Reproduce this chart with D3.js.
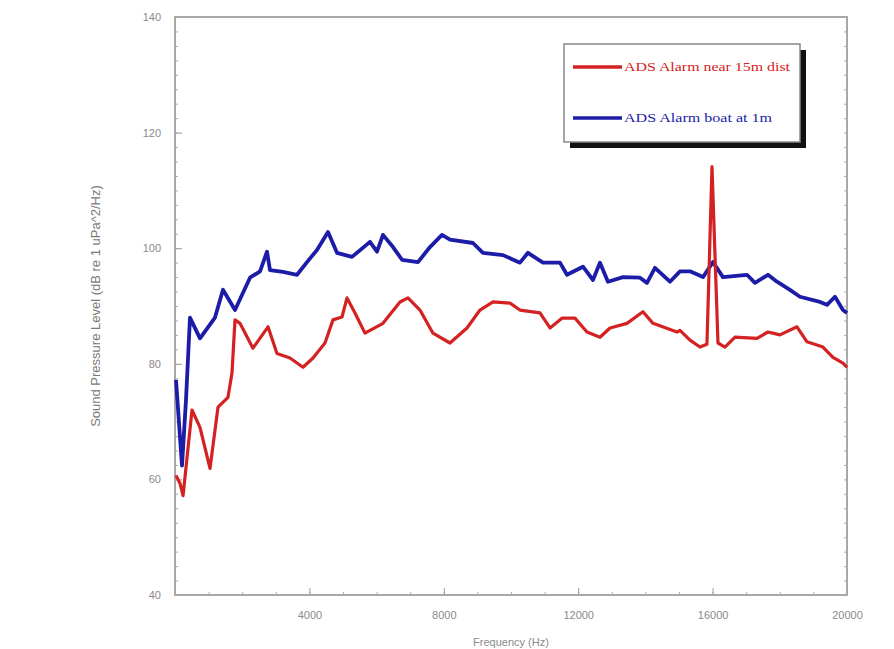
<!DOCTYPE html>
<html>
<head>
<meta charset="utf-8">
<script src="https://cdn.jsdelivr.net/npm/d3@7"></script>
<style>
  body { margin: 0; background: #fff; }
  text { font-family: "Liberation Sans", Arial, sans-serif; }
</style>
</head>
<body>
<div id="chart"></div>
<script>
// data: frequency (Hz) and level (dB)
var seriesNames = ["ADS Alarm near 15m dist", "ADS Alarm boat at 1m"];
var xTicks = [4000, 8000, 12000, 16000, 20000];
var yTicks = [40, 60, 80, 100, 120, 140];

var redFreq = [30, 150, 240, 506, 744, 1042, 1280, 1577, 1696, 1786, 1934, 2321, 2768, 3035, 3422, 3809, 4107, 4464, 4702, 4970, 5119, 5357, 5654, 6190, 6696, 6934, 7291, 7678, 8184, 8690, 9077, 9464, 9970, 10267, 10862, 11160, 11517, 11904, 12261, 12648, 12946, 13451, 13928, 14225, 14940, 15029, 15327, 15624, 15832, 15982, 16160, 16368, 16666, 17320, 17648, 18005, 18511, 18809, 19284, 19582, 19880, 20000];
var redLevel = [60.7, 59.3, 57.2, 72, 69, 61.9, 72.5, 74.2, 78.4, 87.6, 87, 82.7, 86.4, 81.8, 81, 79.4, 81, 83.6, 87.6, 88.1, 91.4, 88.8, 85.3, 87, 90.7, 91.4, 89.3, 85.3, 83.6, 86.2, 89.3, 90.7, 90.5, 89.3, 88.8, 86.2, 87.9, 87.9, 85.5, 84.6, 86.2, 87, 89, 87, 85.5, 85.8, 84.1, 82.9, 83.4, 114.1, 83.6, 82.9, 84.6, 84.4, 85.5, 85, 86.4, 83.8, 82.9, 81.1, 80.1, 79.4];

var blueFreq = [30, 208, 327, 446, 744, 1190, 1428, 1786, 2232, 2530, 2738, 2827, 3214, 3631, 3929, 4226, 4554, 4821, 5268, 5803, 6012, 6190, 6488, 6756, 7232, 7589, 7946, 8184, 8868, 9166, 9761, 10267, 10505, 10952, 11458, 11666, 12142, 12440, 12648, 12886, 13332, 13838, 14047, 14285, 14731, 15029, 15327, 15714, 16011, 16309, 17023, 17261, 17648, 17916, 18302, 18600, 19195, 19404, 19642, 19880, 20000];
var blueLevel = [77.2, 62.4, 73.7, 88, 84.4, 88, 92.8, 89.3, 94.9, 96, 99.4, 96.2, 95.9, 95.4, 97.6, 99.7, 102.8, 99.2, 98.5, 101.1, 99.4, 102.3, 100.2, 98, 97.6, 100.2, 102.3, 101.5, 100.9, 99.2, 98.8, 97.5, 99.2, 97.5, 97.5, 95.4, 96.8, 94.5, 97.5, 94.2, 95, 94.9, 94, 96.6, 94.2, 96, 96, 95, 97.6, 95, 95.4, 94, 95.4, 94.2, 92.8, 91.6, 90.7, 90.2, 91.6, 89.3, 88.8];

var colors = ["#d42222", "#1c1ca8"];

var margin = {top: 17, right: 47, bottom: 54, left: 175},
    width = 894 - margin.left - margin.right,
    height = 649 - margin.top - margin.bottom;

var svg = d3.select("#chart")
  .append("svg")
    .attr("width", 894)
    .attr("height", 649);

var g = svg.append("g")
    .attr("transform", "translate(" + margin.left + "," + margin.top + ")");

var x = d3.scaleLinear().domain([0, 20000]).range([0, width]);
var y = d3.scaleLinear().domain([40, 140]).range([height, 0]);

// minor + major ticks pointing inwards, on all four sides
var minorY = d3.range(40, 140.1, 2.5);
var minorX = d3.range(0, 20001, 1000);

g.append("g")
  .call(d3.axisLeft(y).tickValues(minorY).tickSize(-3).tickFormat(""))
  .call(a => a.select(".domain").remove())
  .selectAll("line").attr("stroke", "#aaa");
g.append("g")
  .attr("transform", "translate(" + width + ",0)")
  .call(d3.axisRight(y).tickValues(minorY).tickSize(-3).tickFormat(""))
  .call(a => a.select(".domain").remove())
  .selectAll("line").attr("stroke", "#aaa");
g.append("g")
  .attr("transform", "translate(0," + height + ")")
  .call(d3.axisBottom(x).tickValues(minorX).tickSize(-3).tickFormat(""))
  .call(a => a.select(".domain").remove())
  .selectAll("line").attr("stroke", "#aaa");

g.append("g")
  .call(d3.axisLeft(y).tickValues(yTicks).tickSize(-7).tickPadding(14).tickFormat(d3.format("d")))
  .call(a => a.select(".domain").remove())
  .call(a => a.selectAll("line").attr("stroke", "#999"))
  .call(a => a.selectAll("text").attr("fill", "#8a8a8a").style("font-size", "11px"));

g.append("g")
  .attr("transform", "translate(0," + height + ")")
  .call(d3.axisBottom(x).tickValues(xTicks).tickSize(-7).tickPadding(16).tickFormat(d3.format("d")))
  .call(a => a.select(".domain").remove())
  .call(a => a.selectAll("line").attr("stroke", "#999"))
  .call(a => a.selectAll("text").attr("fill", "#8a8a8a").style("font-size", "11px"));

g.append("rect")
  .attr("width", width)
  .attr("height", height)
  .attr("fill", "none")
  .attr("stroke", "#a8a8a8")
  .attr("stroke-width", 2);

var line = d3.line()
  .x(function (d) { return x(d[0]); })
  .y(function (d) { return y(d[1]); });

var redData = d3.zip(redFreq, redLevel);
var blueData = d3.zip(blueFreq, blueLevel);

g.append("path")
  .datum(blueData)
  .attr("d", line)
  .attr("fill", "none")
  .attr("stroke", colors[1])
  .attr("stroke-width", 3.8)
  .attr("stroke-linejoin", "round");

g.append("path")
  .datum(redData)
  .attr("d", line)
  .attr("fill", "none")
  .attr("stroke", colors[0])
  .attr("stroke-width", 3.2)
  .attr("stroke-linejoin", "round");

// axis titles
svg.append("text")
  .attr("transform", "translate(100," + (margin.top + y(90)) + ") rotate(-90)")
  .attr("text-anchor", "middle")
  .attr("fill", "#7a7a7a")
  .style("font-size", "13px")
  .text("Sound Pressure Level (dB re 1 uPa^2/Hz)");

svg.append("text")
  .attr("x", margin.left + width / 2)
  .attr("y", 646)
  .attr("text-anchor", "middle")
  .attr("fill", "#8a8a8a")
  .style("font-size", "11px")
  .text("Frequency (Hz)");

// legend with dark drop shadow
var legend = svg.append("g").attr("transform", "translate(564,44)");
legend.append("rect")
  .attr("x", 6).attr("y", 6)
  .attr("width", 236).attr("height", 98)
  .attr("fill", "#111");
legend.append("rect")
  .attr("width", 236).attr("height", 98)
  .attr("fill", "#fff")
  .attr("stroke", "#888")
  .attr("stroke-width", 1.5);

seriesNames.forEach(function (name, i) {
  var row = legend.append("g").attr("transform", "translate(0," + (23 + i * 51) + ")");
  row.append("line")
    .attr("x1", 9).attr("x2", 58)
    .attr("stroke", colors[i])
    .attr("stroke-width", 3.5);
  row.append("text")
    .attr("x", 60).attr("y", 4)
    .attr("fill", colors[i])
    .style("font-family", "'Liberation Serif', serif")
    .style("font-size", "12px")
    .attr("textLength", i == 0 ? 166 : 148)
    .attr("lengthAdjust", "spacingAndGlyphs")
    .text(name);
});
</script>
</body>
</html>
